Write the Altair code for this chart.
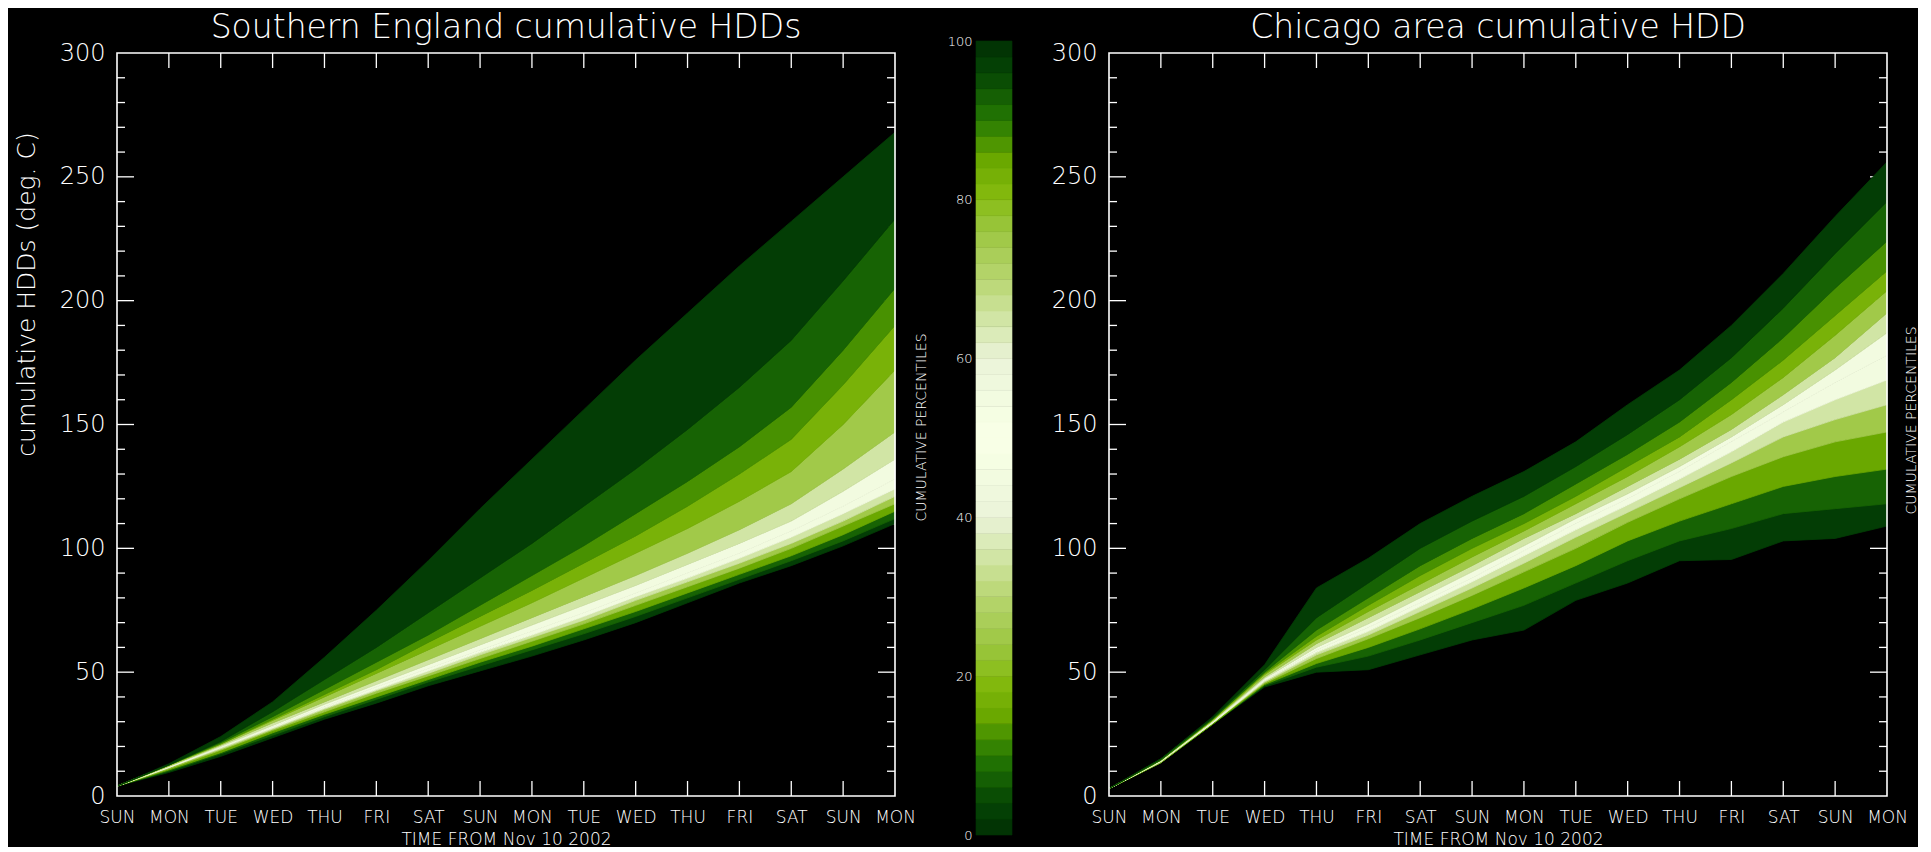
import altair as alt
import pandas as pd

# ---------------- data ----------------
DAY_NAMES = ["SUN", "MON", "TUE", "WED", "THU", "FRI", "SAT", "SUN",
             "MON", "TUE", "WED", "THU", "FRI", "SAT", "SUN", "MON"]
DAYS = list(range(16))
LEVELS = [0, 5, 10, 20, 30, 40, 50, 60, 70, 80, 85, 90, 95, 100]

# Southern England cumulative HDD percentiles (one list per percentile level)
se_p0 = [4, 9.5, 16, 23.5, 31, 37.5, 44.5, 50.5, 56.5, 63, 70, 78, 86, 93, 101, 110]
se_p5 = [4, 10, 17, 24.5, 32, 39, 46, 52.5, 59, 65.5, 72.5, 80, 87.5, 95, 103, 112]
se_p10 = [4, 10.5, 17.5, 25.5, 33, 40, 47, 54, 60.5, 67.5, 74.5, 82, 89.5, 97, 105.5, 115]
se_p20 = [4, 11, 18.5, 26.5, 34, 41.5, 48.5, 55.5, 62.5, 69.5, 77, 84.5, 92, 100, 109, 118]
se_p30 = [4, 11.5, 19, 27, 35, 42.5, 49.5, 57, 64, 71, 79, 86.5, 94, 102, 111, 121]
se_p40 = [4, 11.5, 19.5, 27.5, 35.5, 43, 50.5, 58, 65, 72.5, 80.5, 88, 96, 104.5, 114, 124]
se_p50 = [4, 12, 20, 28, 36, 44, 51.5, 59, 66.5, 74, 82, 90, 98, 107, 117, 128]
se_p60 = [4, 12, 20, 28.5, 37, 45, 53, 61, 69, 77, 85, 93.5, 102, 111, 123, 136]
se_p70 = [4, 12, 20.5, 29.5, 38, 46.5, 55, 63.5, 72, 80.5, 89, 98, 107.5, 118, 132, 147]
se_p80 = [4, 12.5, 21, 30.5, 40, 49.5, 59, 68.5, 78, 88, 98, 108, 119, 131, 150, 172]
se_p85 = [4, 12.5, 21, 31, 41, 51, 62, 72.5, 83, 94, 105, 117, 130, 144, 166, 190]
se_p90 = [4, 12.5, 21.5, 32, 43, 54, 65, 77, 89, 101, 114, 127, 141, 157, 180, 205]
se_p95 = [4, 12.5, 22, 34, 47, 60, 74, 88, 102, 117, 132, 148, 165, 184, 208, 233]
se_p100 = [4, 13, 24, 38, 56, 75, 95, 116, 136, 156, 176, 195, 214, 232, 250, 268]

# Chicago area cumulative HDD percentiles
ch_p0 = [3, 13.5, 29, 44, 50, 51, 57, 63, 67, 79, 86, 95, 95.5, 103, 104, 109]
ch_p5 = [3, 13.5, 29, 44.5, 52, 56.5, 63, 70, 77, 86, 95, 103, 108, 114, 116, 118]
ch_p10 = [3, 13.5, 29, 45, 53.5, 60, 67.5, 75.5, 84, 93, 103, 111, 118, 125, 129, 132]
ch_p20 = [3, 13.5, 29.5, 45.5, 55.5, 63.5, 72, 81, 90.5, 100, 110.5, 120, 129, 137, 143, 147]
ch_p30 = [3, 14, 29.5, 46, 57, 65, 74.5, 84, 94, 104.5, 114.5, 124.5, 134.5, 145, 152, 158]
ch_p40 = [3, 14, 29.5, 46.5, 58, 66.5, 76.5, 86.5, 97, 107.5, 117.5, 128, 139, 151, 160, 168]
ch_p50 = [3, 14, 30, 47, 59, 68, 78, 88, 99, 110, 120, 131, 143, 155, 167, 178]
ch_p60 = [3, 14, 30, 47.5, 60, 69.5, 80, 90.5, 101, 112, 122, 133, 145, 158, 172, 187]
ch_p70 = [3, 14.5, 30.5, 48, 61.5, 72, 82.5, 93, 104, 114, 125, 136, 148, 162, 177, 195]
ch_p80 = [3, 14.5, 30.5, 49, 63, 74.5, 85.5, 96.5, 107, 118, 129, 141, 154, 169, 186, 204]
ch_p85 = [3, 14.5, 31, 49.5, 64.5, 77, 89, 100, 110, 121, 133, 145, 160, 176, 194, 212]
ch_p90 = [3, 14.5, 31, 50, 67, 80, 93, 104, 114, 126, 138, 151, 167, 185, 205, 224]
ch_p95 = [3, 15, 31.5, 51, 72, 86, 100, 111, 121, 133, 146, 160, 177, 197, 219, 240]
ch_p100 = [3, 15, 32, 53, 84, 96, 110, 121, 131, 143, 158, 172, 190, 211, 234, 256]

SE_PCTS = [se_p0, se_p5, se_p10, se_p20, se_p30, se_p40, se_p50,
           se_p60, se_p70, se_p80, se_p85, se_p90, se_p95, se_p100]
CH_PCTS = [ch_p0, ch_p5, ch_p10, ch_p20, ch_p30, ch_p40, ch_p50,
           ch_p60, ch_p70, ch_p80, ch_p85, ch_p90, ch_p95, ch_p100]

# axis tick positions
X_TICKS = list(range(1, 15))
Y_MAJOR = [50, 100, 150, 200, 250]
Y_MINOR = [v for v in range(10, 300, 10) if v % 50 != 0]
Y_LABELS = [0, 50, 100, 150, 200, 250, 300]
CB_LABELS = [0, 20, 40, 60, 80, 100]
CB_STEPS = list(range(0, 100, 2))

# colour map: percentile -> colour
CMAP_STOPS = [0, 5, 10, 15, 20, 30, 40, 50, 60, 70, 80, 85, 90, 95, 100]
CMAP_COLORS = ["#022e02", "#0a4d04", "#267a02", "#6aa800", "#88bc10", "#b8d670",
               "#eaf3d8", "#ffffff", "#eaf3d8", "#b8d670", "#88bc10", "#6aa800",
               "#267a02", "#0a4d04", "#022e02"]

# ---------------- build tables ----------------
def band_frame(pcts):
    rows = []
    for i in range(len(LEVELS) - 1):
        mid = (LEVELS[i] + LEVELS[i + 1]) / 2
        for d in DAYS:
            rows.append({"band": i, "day": d, "lo": pcts[i][d],
                         "hi": pcts[i + 1][d], "mid": mid})
    return pd.DataFrame(rows)


xt_df = pd.DataFrame({"v": X_TICKS})
ymaj_df = pd.DataFrame({"v": Y_MAJOR})
ymin_df = pd.DataFrame({"v": Y_MINOR})
one_df = pd.DataFrame({"a": [0]})
cb_df = pd.DataFrame({"lo": CB_STEPS, "hi": [s + 2 for s in CB_STEPS],
                      "mid": [s + 1 for s in CB_STEPS]})

# ---------------- styling ----------------
W, H = 778, 743
CB_VIEW_W = 52
CB_BAR_W = 36
FG = "#ffffff"
FONT = "DejaVu Sans"
WT = 200
TW = 1.3

xscale = alt.Scale(domain=[0, 15], nice=False, zero=False)
yscale = alt.Scale(domain=[0, 300], nice=False, zero=False)
cscale = alt.Scale(domain=CMAP_STOPS, range=CMAP_COLORS)

label_expr = "[" + ",".join("'%s'" % d for d in DAY_NAMES) + "][datum.value]"

xaxis = alt.Axis(orient="bottom", values=DAYS, labelExpr=label_expr, ticks=False,
                 domain=False, grid=False, labelPadding=13, labelFontSize=17,
                 labelColor=FG, labelFont=FONT, labelFontWeight=WT,
                 labelFlush=False, labelOverlap=False,
                 title="TIME FROM Nov 10 2002", titleFontSize=17,
                 titleColor=FG, titleFont=FONT, titleFontWeight=WT,
                 titlePadding=6)


def yaxis(title_kw):
    return alt.Axis(orient="left", values=Y_LABELS, ticks=False, domain=False,
                    grid=False, labelPadding=12, labelFontSize=24, labelColor=FG,
                    labelFont=FONT, labelFontWeight=WT, labelFlush=False,
                    labelOverlap=False, **title_kw)


def tick_layers():
    xb = alt.Chart(xt_df).mark_rule(color=FG, strokeWidth=TW).encode(
        x=alt.X("v:Q", scale=xscale, axis=None),
        y=alt.value(H), y2=alt.value(H - 15))
    xtp = alt.Chart(xt_df).mark_rule(color=FG, strokeWidth=TW).encode(
        x=alt.X("v:Q", scale=xscale, axis=None),
        y=alt.value(0), y2=alt.value(15))
    yml = alt.Chart(ymaj_df).mark_rule(color=FG, strokeWidth=TW).encode(
        y=alt.Y("v:Q", scale=yscale, axis=None),
        x=alt.value(0), x2=alt.value(17))
    ymr = alt.Chart(ymaj_df).mark_rule(color=FG, strokeWidth=TW).encode(
        y=alt.Y("v:Q", scale=yscale, axis=None),
        x=alt.value(W), x2=alt.value(W - 17))
    ynl = alt.Chart(ymin_df).mark_rule(color=FG, strokeWidth=TW).encode(
        y=alt.Y("v:Q", scale=yscale, axis=None),
        x=alt.value(0), x2=alt.value(8))
    ynr = alt.Chart(ymin_df).mark_rule(color=FG, strokeWidth=TW).encode(
        y=alt.Y("v:Q", scale=yscale, axis=None),
        x=alt.value(W), x2=alt.value(W - 8))
    return [xb, xtp, yml, ymr, ynl, ynr]


def frame():
    return alt.Chart(one_df).mark_rect(filled=False, stroke=FG, strokeWidth=1.6).encode(
        x=alt.value(0), x2=alt.value(W), y=alt.value(0), y2=alt.value(H))


def bands(pcts, title_kw):
    return alt.Chart(band_frame(pcts)).mark_area(interpolate="linear", strokeWidth=0.8).encode(
        x=alt.X("day:Q", scale=xscale, axis=xaxis),
        y=alt.Y("lo:Q", scale=yscale, axis=yaxis(title_kw)),
        y2="hi:Q",
        color=alt.Color("mid:Q", scale=cscale, legend=None),
        stroke=alt.Stroke("mid:Q", scale=cscale, legend=None),
        detail="band:N",
    )


def ptitle(text):
    return alt.TitleParams(text=text, fontSize=33, color=FG, font=FONT,
                           fontWeight=WT, anchor="middle", frame="group",
                           offset=-4)


left_title_kw = dict(title="cumulative HDDs (deg. C)", titleFontSize=25,
                     titleColor=FG, titleFont=FONT, titleFontWeight=WT,
                     titleAngle=270, titleX=-91, titleY=241,
                     titleAlign="center", titleBaseline="middle")
left = alt.layer(*tick_layers(), bands(SE_PCTS, left_title_kw), frame()).resolve_axis(
    x="independent", y="independent").properties(
    width=W, height=H, title=ptitle("Southern England  cumulative HDDs"))

right_axis_layer = alt.Chart(one_df).mark_point(opacity=0).encode(
    y=alt.Y("a:Q", scale=yscale,
            axis=alt.Axis(orient="right", labels=False, ticks=False, domain=False,
                          grid=False, title="CUMULATIVE PERCENTILES",
                          titleFontSize=14, titleColor=FG, titleFont=FONT,
                          titleFontWeight=WT, titleAngle=270,
                          titleX=24, titleY=367, titleAlign="center",
                          titleBaseline="middle")))
right = alt.layer(*tick_layers(), bands(CH_PCTS, dict(title="")), frame(),
                  right_axis_layer).resolve_axis(
    x="independent", y="independent").properties(
    width=W, height=H, title=ptitle("Chicago area cumulative HDD"))

cb = alt.Chart(cb_df).mark_rect(strokeWidth=0.6).encode(
    y=alt.Y("lo:Q", scale=alt.Scale(domain=[0, 100], range=[782, -12], nice=False, zero=False),
            axis=alt.Axis(values=CB_LABELS, ticks=False, domain=False, grid=False,
                          labelFontSize=13, labelPadding=4, labelColor=FG,
                          labelFont=FONT, labelFontWeight=WT, labelFlush=False,
                          labelOverlap=False,
                          title="CUMULATIVE PERCENTILES", titleFontSize=14,
                          titleColor=FG, titleFont=FONT, titleFontWeight=WT,
                          titleAngle=270, titleX=-55, titleY=374,
                          titleAlign="center", titleBaseline="middle")),
    y2="hi:Q",
    x=alt.value(0), x2=alt.value(CB_BAR_W),
    color=alt.Color("mid:Q", scale=cscale, legend=None),
    stroke=alt.Stroke("mid:Q", scale=cscale, legend=None),
).properties(width=CB_VIEW_W, height=H)

chart = alt.hconcat(left, cb, right, spacing=81, bounds="flush").properties(
    padding={"left": 6, "top": 4, "right": 0, "bottom": 0}
).configure(background="black", font=FONT).configure_view(strokeWidth=0)

chart.save("out.html", embed_options={"renderer": "svg", "actions": False})
